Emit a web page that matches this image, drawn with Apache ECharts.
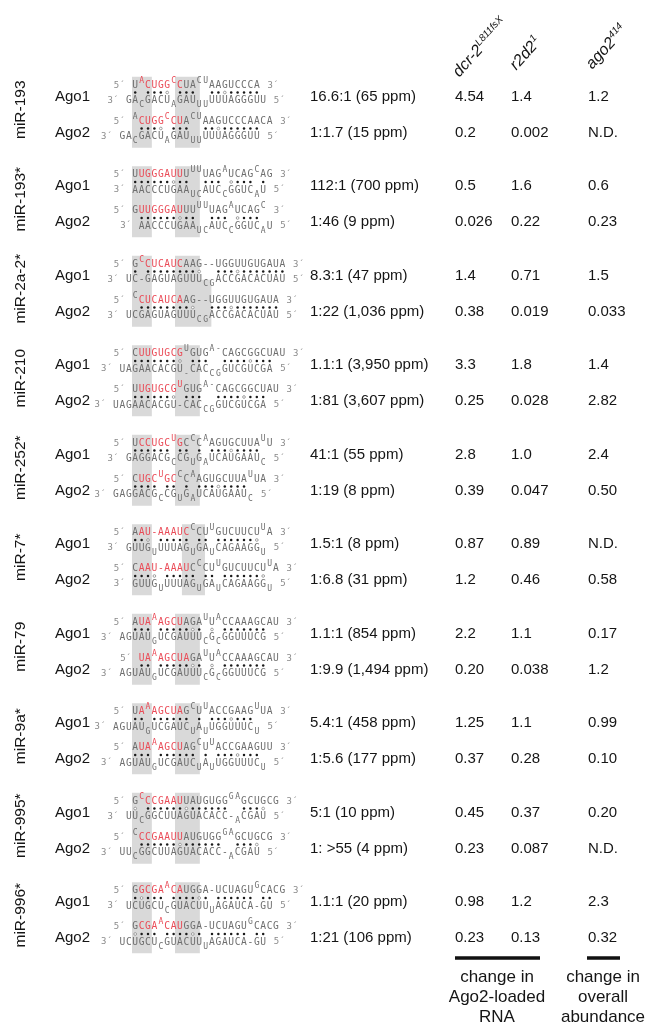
<!DOCTYPE html>
<html><head><meta charset="utf-8">
<script src="https://cdn.jsdelivr.net/npm/echarts@6/dist/echarts.min.js"></script>
<style>html,body{margin:0;padding:0;background:#fff}#c{width:647px;height:1027px}</style>
</head><body><div id="c"></div>
<script>
// ---------- data ----------
const mirnas = ['miR-193','miR-193*','miR-2a-2*','miR-210','miR-252*','miR-7*','miR-79','miR-9a*','miR-995*','miR-996*'];
const argonautes = ['Ago1','Ago2'];
const ratios = ['16.6:1 (65 ppm)','1:1.7 (15 ppm)','112:1 (700 ppm)','1:46 (9 ppm)','8.3:1 (47 ppm)','1:22 (1,036 ppm)',
  '1.1:1 (3,950 ppm)','1:81 (3,607 ppm)','41:1 (55 ppm)','1:19 (8 ppm)','1.5:1 (8 ppm)','1:6.8 (31 ppm)',
  '1.1:1 (854 ppm)','1:9.9 (1,494 ppm)','5.4:1 (458 ppm)','1:5.6 (177 ppm)','5:1 (10 ppm)','1: >55 (4 ppm)',
  '1.1:1 (20 ppm)','1:21 (106 ppm)'];
const dcr2Change = ['4.54','0.2','0.5','0.026','1.4','0.38','3.3','0.25','2.8','0.39','0.87','1.2','2.2','0.20','1.25','0.37','0.45','0.23','0.98','0.23'];
const r2d2Change = ['1.4','0.002','1.6','0.22','0.71','0.019','1.8','0.028','1.0','0.047','0.89','0.46','1.1','0.038','1.1','0.28','0.37','0.087','1.2','0.13'];
const ago2Change = ['1.2','N.D.','0.6','0.23','1.5','0.033','1.4','2.82','2.4','0.50','N.D.','0.58','0.17','1.2','0.99','0.10','0.20','N.D.','2.3','0.32'];
const headers = [['dcr-2','L811fsX'],['r2d2','1'],['ago2','414']];
const captions = [['change in','Ago2-loaded','RNA'],['change in','overall','abundance']];
// duplex notation: {..} red, ^x superscript, _x subscript, < shift one column left
const topStrands = [
 '  5´ U{^ACUGG^CC}UA^C^UAAGUCCCA 3´',
 '  5´ ^A{CUGG^CCU}A^C^UAAGUCCCAACA 3´',
 '  5´ U{UGGGAUU}U^U^UUAG^AUCAG^CAG 3´',
 '  5´ G{UUGGGAU}UU^U^UUAG^AUCAG^C 3´',
 '  5´ G{^CCUCAUC}AAG--UGGUUGUGAUA 3´',
 '  5´ ^C{CUCAUCA}AG--UGGUUGUGAUA 3´',
 '  5´ C{UUGUGCG}^UGUG^A^-CAGCGGCUAU 3´',
 '  5´ U{UGUGCG^U}GUG^A^-CAGCGGCUAU 3´',
 '  5´ U{CCUGC^UG}C^CC^AAGUGCUUA^UU 3´',
 '  5´ C{UGC^UGC}^CC^AAGUGCUUA^UUA 3´',
 '  5´ A{AU-AAAUC}^CCU^UGUCUUCU^UA 3´',
 '  5´ C{AAU-AAAU}C^CCU^UGUCUUCU^UA 3´',
 '  5´ A{UA^AAGCU}AGA^UU^ACCAAAGCAU 3´',
 '   5´ {UA^AAGCUA}GA^UU^ACCAAAGCAU 3´',
 '  5´ U{A^AAGCUA}G^CU^UACCGAAG^UUA 3´',
 '  5´ A{UA^AAGCU}AG^CU^UACCGAAGUU 3´',
 '  5´ G{^CCCGAAU}UAUGUGG^G^AGCUGCG 3´',
 '  5´ ^C{CCGAAUU}AUGUGG^G^AGCUGCG 3´',
 '  5´ G{GCGA^ACA}UGGA-UCUAGU^GCACG 3´',
 '  5´ G{CGA^ACAU}GGA-UCUAGU^GCACG 3´'
];
const pairMarks = [
 '     * ***o ***  **o*****',
 '      ***o ***  **o******',
 '     ******o**  *** o*** *',
 '      ******o**  *** o***',
 '     * ********o  ***o*******',
 '      ********o  ***o*******',
 '     *******o ***  ****o***',
 '     ******o ***  ****o***',
 '     ****** ** * ***o****',
 '     **** ** * ***o****',
 '     **o ***** ** ******o',
 '     ***o ***** ** ******o',
 '     *** *****o* o *******',
 '      ** *****o* o *******',
 '     ** ****** * ***o***',
 '     *** ****** * ***o***',
 '     o ******o******  ***o',
 '      ******o******  ***o',
 '     *o*** ****o* ****** **',
 '     o*** ****o* ****** **'
];
const bottomStrands = [
 ' 3´ GA_CGACU_AGAU_U_UUUUAGGGUU 5´',
 '3´ GA_CGACU_AGAU_U_UUUUAGGGUU 5´',
 '  3´ AACCCUGAA_U_CAUC_CGGUC_AU 5´',
 '   3´ AACCCUGAA_U_CAUC_CGGUC_AU 5´',
 ' 3´ UC-GAGUAGUUU_C_GACCGACACUAU 5´',
 ' 3´ UCGAGUAGUUU_C_GACCGACACUAU 5´',
 '3´ UAGAACACGU_-CAC_C_GGUCGUCGA 5´',
 '<3´ UAGAACACGU-CAC_C_GGUCGUCGA 5´',
 ' 3´ GAGGACG_CCG_UG_AUCAUGAAU_C 5´',
 '<3´ GAGGACG_CCG_UG_AUCAUGAAU_C 5´',
 ' 3´ GUUG_UUUUAG_UGA_UCAGAAGG_U 5´',
 '  3´ GUUG_UUUUAG_UGA_UCAGAAGG_U 5´',
 '3´ AGUAU_GUCGAUUU_CG_CGGUUUCG 5´',
 '3´ AGUAU_GUCGAUUU_CG_CGGUUUCG 5´',
 '<3´ AGUAU_GUCGAUC_UA_UUGGUUUC_U 5´',
 '3´ AGUAU_GUCGAUC_UA_UUGGUUUC_U 5´',
 ' 3´ UU_CGGCUUAGUACACC-_ACGAU 5´',
 '3´ UU_CGGCUUAGUACACC-_ACGAU 5´',
 ' 3´ UCUGCU_CGUACUU_UAGAUCA-GU 5´',
 '3´ UCUGCU_CGUACUU_UAGAUCA-GU 5´'
];

// ---------- layout / style ----------
const SUB = 36 / 89.5;           // Ago2 row offset in group units
const X0 = 100, CW = 6.4;        // duplex column grid
const SANS = '"Liberation Sans", Arial, sans-serif';
const MONO = '"DejaVu Sans Mono", monospace';
const GREY = '#6e6e6e', RED = '#ea4b57', BOX = '#d9d9d9';
const boxDefault = [[5, 8.1, -20, 51], [11.72, 15.6, -20, 51]];
const boxSpecial = {2: [[5, 8.1, -20, 51], [11.72, 15.6, -20, 51], [15.5, 17.4, 4, 51]],
                    5: [[5, 8.1, -20, 51], [12.8, 16.4, -20, 51]]};

function parseStrand(s) {
  const out = []; let col = 0, red = false, mode = 0;
  for (let k = 0; k < s.length; k++) {
    const ch = s[k];
    if (ch === '<') { col--; continue; }
    if (ch === '{') { red = true; continue; }
    if (ch === '}') { red = false; continue; }
    if (ch === '^') { mode = 1; continue; }
    if (ch === '_') { mode = -1; continue; }
    if (ch === ' ') { col++; mode = 0; continue; }
    if ((ch === '5' || ch === '3') && s[k + 1] === '´') {
      out.push({t: ch + '´', col: col, prime: true}); col += 2; k++; continue;
    }
    out.push({t: ch, col: col, mode: mode, red: red}); col++; mode = 0;
  }
  return out;
}

function strandEls(s, y) {
  return parseStrand(s).map(function (c) {
    if (c.prime) {
      return {type: 'text', style: {x: X0 + (c.col + 1) * CW, y: y, text: c.t, fill: '#8a8a8a',
        font: '9px ' + MONO, align: 'center', verticalAlign: 'middle'}};
    }
    const small = c.mode !== 0;
    return {type: 'text', style: {x: X0 + (c.col + 0.5) * CW, y: y + (c.mode === 1 ? -4.5 : c.mode === -1 ? 4.5 : 0),
      text: c.t, fill: c.red ? RED : GREY, font: (small ? '8px ' : '9.6px ') + MONO,
      align: 'center', verticalAlign: 'middle'}};
  });
}

function markEls(s, y) {
  const els = [];
  for (let k = 0; k < s.length; k++) {
    const x = X0 + (k + 0.5) * CW;
    if (s[k] === '*') els.push({type: 'circle', shape: {cx: x, cy: y, r: 1.25}, style: {fill: '#1a1a1a'}});
    else if (s[k] === 'o') els.push({type: 'circle', shape: {cx: x, cy: y, r: 1.35}, style: {fill: '#fff', stroke: '#8a8a8a', lineWidth: 0.8}});
  }
  return els;
}

function txt(x, y, t, size, extra) {
  return {type: 'text', style: Object.assign({x: x, y: y, text: t, fill: '#151515', font: size + 'px ' + SANS,
    align: 'left', verticalAlign: 'middle'}, extra || {})};
}

const rowData = ratios.map(function (r, i) { return [0, Math.floor(i / 2) + (i % 2) * SUB, i]; });
const groupData = mirnas.map(function (m, g) { return [0, g, g]; });

const chart = echarts.init(document.getElementById('c'), null, {renderer: 'canvas'});

// header graphics with superscripts
const meas = document.createElement('canvas').getContext('2d');
const headerPos = [[462, 80], [519, 73], [595, 72]];
const graphics = headers.map(function (h, k) {
  meas.font = 'italic 16px ' + SANS;
  const w = meas.measureText(h[0]).width;
  return {type: 'group', x: headerPos[k][0], y: headerPos[k][1], rotation: 48 * Math.PI / 180, children: [
    {type: 'text', style: {x: 0, y: 0, text: h[0], font: 'italic 16px ' + SANS, fill: '#151515', align: 'left', verticalAlign: 'bottom'}},
    {type: 'text', style: {x: w + 0.5, y: -7.5, text: h[1], font: 'italic 10px ' + SANS, fill: '#151515', align: 'left', verticalAlign: 'bottom'}}
  ]};
});
graphics.push({type: 'line', shape: {x1: 455, y1: 958, x2: 540, y2: 958}, style: {stroke: '#111', lineWidth: 3.5}});
graphics.push({type: 'line', shape: {x1: 587, y1: 958, x2: 620, y2: 958}, style: {stroke: '#111', lineWidth: 3.5}});
[497, 603].forEach(function (cx, k) {
  captions[k].forEach(function (line, j) {
    graphics.push({type: 'text', style: {x: cx, y: 977 + j * 20, text: line, font: '17px ' + SANS, fill: '#151515',
      align: 'center', verticalAlign: 'middle'}});
  });
});

chart.setOption({
  animation: false,
  grid: {left: 0, right: 0, top: 96.7, bottom: 35.3},
  xAxis: {type: 'value', min: 0, max: 647, show: false},
  yAxis: {type: 'value', min: 0, max: 10, inverse: true, show: false},
  graphic: graphics,
  series: [
    {type: 'custom', z: 1, data: groupData, renderItem: function (params, api) {
      const g = api.value(2);
      const c = api.coord([0, api.value(1)])[1];
      const boxes = boxSpecial[g] || boxDefault;
      const ch = boxes.map(function (b) {
        return {type: 'rect', shape: {x: X0 + b[0] * CW, y: c + b[2], width: (b[1] - b[0]) * CW, height: b[3] - b[2]},
          style: {fill: BOX}};
      });
      ch.push({type: 'text', x: 21, y: c + 13, rotation: Math.PI / 2, style: {x: 0, y: 0, text: mirnas[g],
        font: '15.5px ' + SANS, fill: '#151515', align: 'center', verticalAlign: 'middle'}});
      return {type: 'group', children: ch};
    }},
    {type: 'custom', z: 2, data: rowData, renderItem: function (params, api) {
      const i = api.value(2);
      const c = api.coord([0, api.value(1)])[1];
      let ch = [
        txt(55, c, argonautes[i % 2], 15),
        txt(310, c, ratios[i], 15),
        txt(455, c, dcr2Change[i], 15),
        txt(511, c, r2d2Change[i], 15),
        txt(588, c, ago2Change[i], 15)
      ];
      ch = ch.concat(strandEls(topStrands[i], c - 11.5), markEls(pairMarks[i], c - 4.2), strandEls(bottomStrands[i], c + 3.8));
      return {type: 'group', children: ch};
    }}
  ]
});
</script>
</body></html>
